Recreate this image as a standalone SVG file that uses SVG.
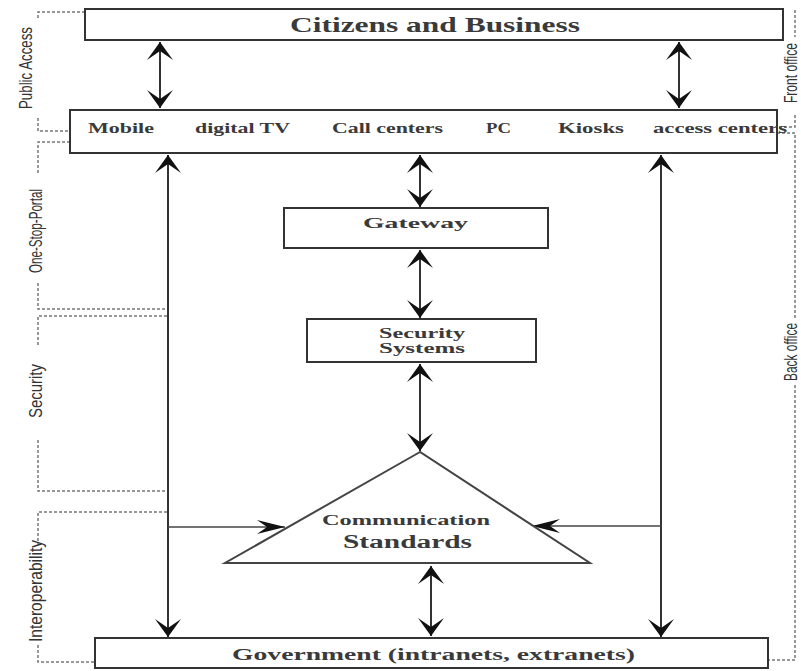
<svg xmlns="http://www.w3.org/2000/svg" width="801" height="671" viewBox="0 0 801 671">
<style>
.box{fill:#fff;stroke:#333;stroke-width:2}
.t{font-family:"Liberation Serif","DejaVu Serif",serif;font-weight:bold;fill:#3a3a3a}
.side{font-family:"Liberation Sans","DejaVu Sans",sans-serif;fill:#333;font-size:18px}
.ln{stroke:#333;stroke-width:2;fill:none}
.hl{stroke:#444;stroke-width:1.5;fill:none}
.dash{stroke:#777;stroke-width:1.5;fill:none;stroke-dasharray:3,2}
</style>
<defs>
<marker id="ah" markerUnits="userSpaceOnUse" markerWidth="30" markerHeight="30" viewBox="-1 -15 20 30" refX="18" refY="0" orient="auto-start-reverse">
<path d="M0,-13 L18,0 L0,13 L9,0 Z" fill="#111"/>
</marker>
<marker id="ah2" markerUnits="userSpaceOnUse" markerWidth="30" markerHeight="16" viewBox="-1 -8 30 16" refX="28" refY="0" orient="auto">
<path d="M0,-7 L28,0 L0,7 L10,0 Z" fill="#111"/>
</marker>
</defs>

<g id="brackets">
<path class="dash" d="M85,12 H38 V20"/>
<path class="dash" d="M38,118 V131 H70"/>
<path class="dash" d="M70,142 H38 V173"/>
<path class="dash" d="M38,283 V309 H167"/>
<path class="dash" d="M167,316 H38 V345"/>
<path class="dash" d="M38,440 V491 H167"/>
<path class="dash" d="M167,512 H38 V545"/>
<path class="dash" d="M38,645 V662 H95"/>
<path class="dash" d="M795,10 V37"/>
<path class="dash" d="M795,115 V127 H777"/>
<path class="dash" d="M777,133 H795 V320"/>
<path class="dash" d="M795,385 V660 H768"/>
<text class="side" transform="translate(32,68) rotate(-90)" text-anchor="middle" textLength="82" lengthAdjust="spacingAndGlyphs">Public Access</text>
<text class="side" transform="translate(42,231) rotate(-90)" text-anchor="middle" textLength="84" lengthAdjust="spacingAndGlyphs">One-Stop-Portal</text>
<text class="side" transform="translate(42,391) rotate(-90)" text-anchor="middle" textLength="54" lengthAdjust="spacingAndGlyphs">Security</text>
<text class="side" transform="translate(42,591) rotate(-90)" text-anchor="middle" textLength="102" lengthAdjust="spacingAndGlyphs">Interoperability</text>
<text class="side" transform="translate(797,73) rotate(-90)" text-anchor="middle" font-size="17" textLength="60" lengthAdjust="spacingAndGlyphs">Front office</text>
<text class="side" transform="translate(797,352) rotate(-90)" text-anchor="middle" font-size="17" textLength="58" lengthAdjust="spacingAndGlyphs">Back office</text>
</g>

<g id="connectors">
<line class="ln" x1="160" y1="42" x2="160" y2="108" marker-start="url(#ah)" marker-end="url(#ah)"/>
<line class="ln" x1="679" y1="42" x2="679" y2="108" marker-start="url(#ah)" marker-end="url(#ah)"/>
<line class="ln" x1="168" y1="155" x2="168" y2="637" marker-start="url(#ah)" marker-end="url(#ah)"/>
<line class="ln" x1="661" y1="155" x2="661" y2="637" marker-start="url(#ah)" marker-end="url(#ah)"/>
<line class="ln" x1="420" y1="155" x2="420" y2="207" marker-start="url(#ah)" marker-end="url(#ah)"/>
<line class="ln" x1="420" y1="250" x2="420" y2="318" marker-start="url(#ah)" marker-end="url(#ah)"/>
<line class="ln" x1="420" y1="364" x2="420" y2="451" marker-start="url(#ah)" marker-end="url(#ah)"/>
<line class="ln" x1="431" y1="566" x2="431" y2="636" marker-start="url(#ah)" marker-end="url(#ah)"/>
<line class="hl" x1="168" y1="527" x2="285" y2="527" marker-end="url(#ah2)"/>
<line class="hl" x1="661" y1="526" x2="532" y2="526" marker-end="url(#ah2)"/>
</g>

<g id="citizens">
<rect class="box" x="85" y="9" width="698" height="31"/>
<text class="t" x="290" y="32" font-size="21" font-weight="normal" textLength="290" lengthAdjust="spacingAndGlyphs">Citizens and Business</text>
</g>

<g id="channels">
<rect class="box" x="70" y="110" width="707" height="43"/>
<text class="t" x="88" y="133" font-size="14" textLength="66" lengthAdjust="spacingAndGlyphs">Mobile</text>
<text class="t" x="195" y="133" font-size="14" textLength="95" lengthAdjust="spacingAndGlyphs">digital TV</text>
<text class="t" x="332" y="133" font-size="14" textLength="111" lengthAdjust="spacingAndGlyphs">Call centers</text>
<text class="t" x="486" y="133" font-size="14" textLength="25" lengthAdjust="spacingAndGlyphs">PC</text>
<text class="t" x="558" y="133" font-size="14" textLength="66" lengthAdjust="spacingAndGlyphs">Kiosks</text>
<text class="t" x="653" y="133" font-size="14" textLength="134" lengthAdjust="spacingAndGlyphs">access centers</text>
</g>

<g id="gateway">
<rect class="box" x="284" y="208" width="264" height="40"/>
<text class="t" x="363" y="228" font-size="15" textLength="105" lengthAdjust="spacingAndGlyphs">Gateway</text>
</g>

<g id="security">
<rect class="box" x="307" y="319" width="229" height="43"/>
<text class="t" x="379" y="338" font-size="14" textLength="86" lengthAdjust="spacingAndGlyphs">Security</text>
<text class="t" x="379" y="353" font-size="14" textLength="86" lengthAdjust="spacingAndGlyphs">Systems</text>
</g>

<g id="communication">
<polygon points="420,452 225,563 590,563" fill="#fff" stroke="#444" stroke-width="2"/>
<text class="t" x="322" y="525" font-size="14" textLength="168" lengthAdjust="spacingAndGlyphs">Communication</text>
<text class="t" x="343" y="548" font-size="18" textLength="129" lengthAdjust="spacingAndGlyphs">Standards</text>
</g>

<g id="government">
<rect class="box" x="95" y="638" width="673" height="30"/>
<text class="t" x="232" y="660" font-size="17" font-weight="normal" textLength="403" lengthAdjust="spacingAndGlyphs">Government (intranets, extranets)</text>
</g>
</svg>
